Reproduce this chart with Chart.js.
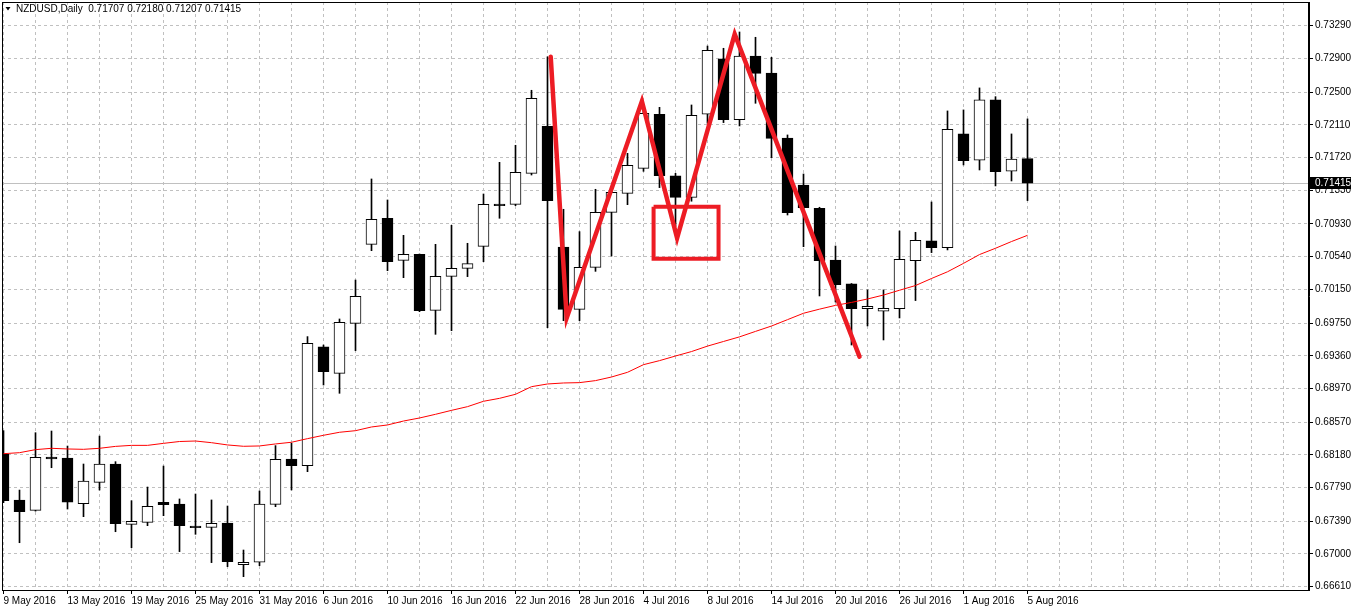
<!DOCTYPE html>
<html>
<head>
<meta charset="utf-8">
<title>NZDUSD Daily</title>
<script src="https://cdn.jsdelivr.net/npm/chart.js@4/dist/chart.umd.min.js"></script>
<style>
  html, body { margin: 0; padding: 0; background: #fff; }
  #grafico { display: block; }
</style>
</head>
<body>
<canvas id="grafico" width="1352" height="611"></canvas>
<script>
// dias de pregão (um candle por dia)
const datas = [
  "9 May 2016", "10 May 2016", "11 May 2016", "12 May 2016", "13 May 2016",
  "16 May 2016", "17 May 2016", "18 May 2016", "19 May 2016", "20 May 2016",
  "23 May 2016", "24 May 2016", "25 May 2016", "26 May 2016", "27 May 2016",
  "30 May 2016", "31 May 2016", "1 Jun 2016", "2 Jun 2016", "3 Jun 2016",
  "6 Jun 2016", "7 Jun 2016", "8 Jun 2016", "9 Jun 2016", "10 Jun 2016",
  "13 Jun 2016", "14 Jun 2016", "15 Jun 2016", "16 Jun 2016", "17 Jun 2016",
  "20 Jun 2016", "21 Jun 2016", "22 Jun 2016", "23 Jun 2016", "24 Jun 2016",
  "27 Jun 2016", "28 Jun 2016", "29 Jun 2016", "30 Jun 2016", "1 Jul 2016",
  "4 Jul 2016", "5 Jul 2016", "6 Jul 2016", "7 Jul 2016", "8 Jul 2016",
  "11 Jul 2016", "12 Jul 2016", "13 Jul 2016", "14 Jul 2016", "15 Jul 2016",
  "18 Jul 2016", "19 Jul 2016", "20 Jul 2016", "21 Jul 2016", "22 Jul 2016",
  "25 Jul 2016", "26 Jul 2016", "27 Jul 2016", "28 Jul 2016", "29 Jul 2016",
  "1 Aug 2016", "2 Aug 2016", "3 Aug 2016", "4 Aug 2016", "5 Aug 2016"
];

const abertura = [
  0.68186, 0.67642, 0.67519, 0.68154, 0.68142, 0.67599, 0.67853, 0.68071, 0.67353, 0.67377,
  0.67614, 0.67595, 0.67333, 0.67317, 0.67369, 0.66873, 0.66901, 0.67591, 0.68131, 0.68052,
  0.69465, 0.69151, 0.69746, 0.70687, 0.70996, 0.70496, 0.70568, 0.69901, 0.70306, 0.70401,
  0.70663, 0.71167, 0.71163, 0.71532, 0.72092, 0.70655, 0.69913, 0.70413, 0.71068, 0.71294,
  0.71592, 0.72235, 0.71501, 0.71246, 0.72235, 0.72894, 0.72171, 0.72929, 0.72727, 0.71953,
  0.71393, 0.71116, 0.70500, 0.70215, 0.69921, 0.69890, 0.69921, 0.70493, 0.70727, 0.70648,
  0.72001, 0.71688, 0.72406, 0.71557, 0.71707
];
const maxima = [
  0.68468, 0.67761, 0.68444, 0.68464, 0.68285, 0.68071, 0.68404, 0.68099, 0.67634, 0.67797,
  0.68047, 0.67655, 0.67714, 0.67643, 0.67571, 0.67047, 0.67750, 0.68290, 0.68318, 0.69588,
  0.69488, 0.69798, 0.70262, 0.71465, 0.71215, 0.70794, 0.70572, 0.70687, 0.70913, 0.70699,
  0.71286, 0.71663, 0.71866, 0.72521, 0.72920, 0.71104, 0.70838, 0.71342, 0.71330, 0.71770,
  0.72270, 0.72318, 0.71532, 0.72346, 0.73048, 0.73021, 0.73215, 0.73152, 0.72913, 0.71989,
  0.71524, 0.71128, 0.70667, 0.70220, 0.70144, 0.70144, 0.70846, 0.70830, 0.71191, 0.72275,
  0.72287, 0.72549, 0.72445, 0.72001, 0.72180
];
const minima = [
  0.67611, 0.67134, 0.67510, 0.68027, 0.67535, 0.67444, 0.67761, 0.67265, 0.67075, 0.67337,
  0.67456, 0.67028, 0.67234, 0.66897, 0.66849, 0.66730, 0.66861, 0.67563, 0.67762, 0.67980,
  0.69012, 0.68913, 0.69421, 0.70611, 0.70373, 0.70290, 0.69885, 0.69615, 0.69659, 0.70302,
  0.70480, 0.70997, 0.71147, 0.71512, 0.69695, 0.69778, 0.69778, 0.70365, 0.70548, 0.71159,
  0.71556, 0.71362, 0.70900, 0.71200, 0.72128, 0.72136, 0.72096, 0.72366, 0.71719, 0.71036,
  0.70659, 0.70072, 0.70000, 0.69488, 0.69715, 0.69548, 0.69810, 0.70017, 0.70588, 0.70620,
  0.71632, 0.71572, 0.71382, 0.71441, 0.71207
];
const fechamento = [
  0.67634, 0.67503, 0.68150, 0.68131, 0.67618, 0.67869, 0.68071, 0.67361, 0.67388, 0.67567,
  0.67587, 0.67337, 0.67313, 0.67365, 0.66909, 0.66901, 0.67595, 0.68127, 0.68052, 0.69508,
  0.69171, 0.69758, 0.70068, 0.70985, 0.70480, 0.70568, 0.69897, 0.70306, 0.70401, 0.70457,
  0.71163, 0.71147, 0.71544, 0.72425, 0.71207, 0.69913, 0.70413, 0.71068, 0.71306, 0.71628,
  0.72247, 0.71505, 0.71246, 0.72223, 0.72997, 0.72171, 0.72929, 0.72723, 0.71949, 0.71064,
  0.71123, 0.70492, 0.70207, 0.69921, 0.69949, 0.69925, 0.70509, 0.70735, 0.70648, 0.72057,
  0.71684, 0.72406, 0.71553, 0.71703, 0.71415
];

// média móvel (linha vermelha fina)
const media = [
  0.68194, 0.68206, 0.68242, 0.68258, 0.68250, 0.68246, 0.68258, 0.68281, 0.68293, 0.68293,
  0.68317, 0.68339, 0.68345, 0.68325, 0.68298, 0.68282, 0.68286, 0.68310, 0.68330, 0.68373,
  0.68413, 0.68449, 0.68468, 0.68512, 0.68536, 0.68583, 0.68619, 0.68663, 0.68710, 0.68754,
  0.68818, 0.68853, 0.68901, 0.68992, 0.69024, 0.69036, 0.69040, 0.69064, 0.69107, 0.69163,
  0.69254, 0.69302, 0.69357, 0.69410, 0.69475, 0.69530, 0.69585, 0.69650, 0.69714, 0.69790,
  0.69866, 0.69915, 0.69960, 0.69995, 0.70036, 0.70083, 0.70140, 0.70196, 0.70280, 0.70360,
  0.70460, 0.70565, 0.70640, 0.70720, 0.70794
];

// preços mostrados no eixo da direita
const precosEixo = [
  0.73290, 0.72900, 0.72500, 0.72110, 0.71720, 0.71330, 0.70930, 0.70540, 0.70150,
  0.69750, 0.69360, 0.68970, 0.68570, 0.68180, 0.67790, 0.67390, 0.67000, 0.66610
];

// desenho à mão: zigue-zague e retângulo (posição em candles / preço)
const zigueX = [34.2, 35.2, 39.9, 42.1, 45.7, 53.5];
const zigueY = [0.7292, 0.6981, 0.7239, 0.7076, 0.7319, 0.6935];
const caixaX = [40.63, 44.69, 44.69, 40.63, 40.63];
const caixaY = [0.71135, 0.71135, 0.70515, 0.70515, 0.71135];

const ultimo = fechamento.length - 1;
const vermelho = '#ed1c24';

const indices = datas.map((d, i) => i);
const corpos = indices.map(i => ({ x: i, y: [abertura[i], fechamento[i]] }));
const pavios = indices.map(i => ({ x: i, y: [minima[i], maxima[i]] }));
const coresCorpo = indices.map(i => fechamento[i] < abertura[i] ? '#000000' : '#ffffff');

// marcas do eixo x a cada 2 candles, texto a cada 4
const marcasX = [];
for (let i = 0; i <= 80; i += 2) marcasX.push(i);

function temTexto(v) {
  return v % 4 === 0 && v <= ultimo;
}

// tira o espaço extra que o Chart.js reserva para os textos dos eixos
function semPadding(scale) {
  scale.paddingTop = 0;
  scale.paddingBottom = 0;
  scale.paddingLeft = 0;
  scale.paddingRight = 0;
}

const extras = {
  id: 'extras',
  beforeDatasetsDraw(chart) {
    // linha do bid
    const { ctx, chartArea: a, scales: { y } } = chart;
    const py = Math.round(y.getPixelForValue(fechamento[ultimo])) + 0.5;
    ctx.save();
    ctx.strokeStyle = '#c0c0c0';
    ctx.lineWidth = 1;
    ctx.beginPath();
    ctx.moveTo(a.left, py);
    ctx.lineTo(a.right, py);
    ctx.stroke();
    ctx.restore();
  },
  afterDraw(chart) {
    const { ctx, chartArea: a, scales: { y } } = chart;
    ctx.save();

    // moldura
    ctx.strokeStyle = '#000';
    ctx.lineWidth = 1;
    ctx.strokeRect(a.left + 0.5, a.top + 0.5, a.right - a.left - 1, a.bottom - a.top);

    // caixa do preço atual
    const py = Math.round(y.getPixelForValue(fechamento[ultimo]));
    ctx.fillStyle = '#000';
    ctx.fillRect(a.right + 1, py - 6, chart.width - a.right - 2, 12);
    ctx.fillStyle = '#fff';
    ctx.font = '10px "Liberation Sans", Arial, sans-serif';
    ctx.textBaseline = 'middle';
    ctx.fillText(fechamento[ultimo].toFixed(5), a.right + 6, py + 0.5);

    // título
    ctx.fillStyle = '#000';
    ctx.beginPath();
    ctx.moveTo(5.5, 7);
    ctx.lineTo(10.5, 7);
    ctx.lineTo(8, 10.5);
    ctx.closePath();
    ctx.fill();
    const titulo = 'NZDUSD,Daily  ' + [abertura[ultimo], maxima[ultimo], minima[ultimo], fechamento[ultimo]]
      .map(v => v.toFixed(5)).join(' ');
    ctx.fillText(titulo, 16, 9.5);

    ctx.restore();
  }
};

Chart.defaults.font.family = '"Liberation Sans", Arial, sans-serif';
Chart.defaults.font.size = 10;
Chart.defaults.color = '#000';

const ctx = document.getElementById('grafico');

new Chart(ctx, {
  type: 'bar',
  data: {
    datasets: [
      {
        type: 'line',
        label: 'zigue',
        data: zigueX.map((x, i) => ({ x: x, y: zigueY[i] })),
        borderColor: vermelho,
        borderWidth: 4.5,
        borderCapStyle: 'round',
        borderJoinStyle: 'miter',
        pointRadius: 0,
        tension: 0,
        order: 0
      },
      {
        type: 'line',
        label: 'caixa',
        data: caixaX.map((x, i) => ({ x: x, y: caixaY[i] })),
        borderColor: vermelho,
        borderWidth: 4,
        borderJoinStyle: 'miter',
        pointRadius: 0,
        tension: 0,
        order: 0
      },
      {
        type: 'line',
        label: 'media',
        data: indices.map(i => ({ x: i, y: media[i] })),
        borderColor: '#ff0000',
        borderWidth: 1,
        pointRadius: 0,
        tension: 0,
        order: 1
      },
      {
        label: 'corpo',
        data: corpos,
        backgroundColor: coresCorpo,
        borderColor: '#000',
        borderWidth: 1,
        borderSkipped: false,
        barThickness: 11,
        grouped: false,
        order: 2
      },
      {
        label: 'pavio',
        data: pavios,
        backgroundColor: '#000',
        borderWidth: 0,
        barThickness: 1,
        grouped: false,
        order: 3
      }
    ]
  },
  plugins: [extras],
  options: {
    responsive: false,
    animation: false,
    devicePixelRatio: 1,
    events: [],
    layout: { padding: { left: 2, top: 2, right: 0, bottom: 0 } },
    plugins: {
      legend: { display: false },
      tooltip: { enabled: false }
    },
    scales: {
      x: {
        type: 'linear',
        min: -0.09375,
        max: 81.59375,
        offset: false,
        afterBuildTicks: scale => { scale.ticks = marcasX.map(v => ({ value: v })); },
        afterFit: scale => { scale.height = 21; semPadding(scale); },
        ticks: {
          autoSkip: false,
          maxRotation: 0,
          align: 'start',
          padding: 1,
          callback: v => temTexto(v) ? datas[v] : ''
        },
        grid: {
          offset: false,
          color: '#c0c0c0',
          tickLength: 4,
          tickBorderDash: [],
          tickColor: c => (c.tick && temTexto(c.tick.value)) ? '#000' : 'rgba(0,0,0,0)'
        },
        border: { color: '#000', dash: [3, 3] }
      },
      y: {
        position: 'right',
        min: 0.66571,
        max: 0.73572,
        afterBuildTicks: scale => { scale.ticks = precosEixo.map(v => ({ value: v })); },
        afterFit: scale => { scale.width = 43; semPadding(scale); },
        ticks: {
          padding: 2,
          callback: v => Number(v).toFixed(5)
        },
        grid: {
          color: '#c0c0c0',
          tickLength: 4,
          tickBorderDash: [],
          tickColor: '#000'
        },
        border: { color: '#000', dash: [3, 3] }
      }
    }
  }
});
</script>
</body>
</html>
